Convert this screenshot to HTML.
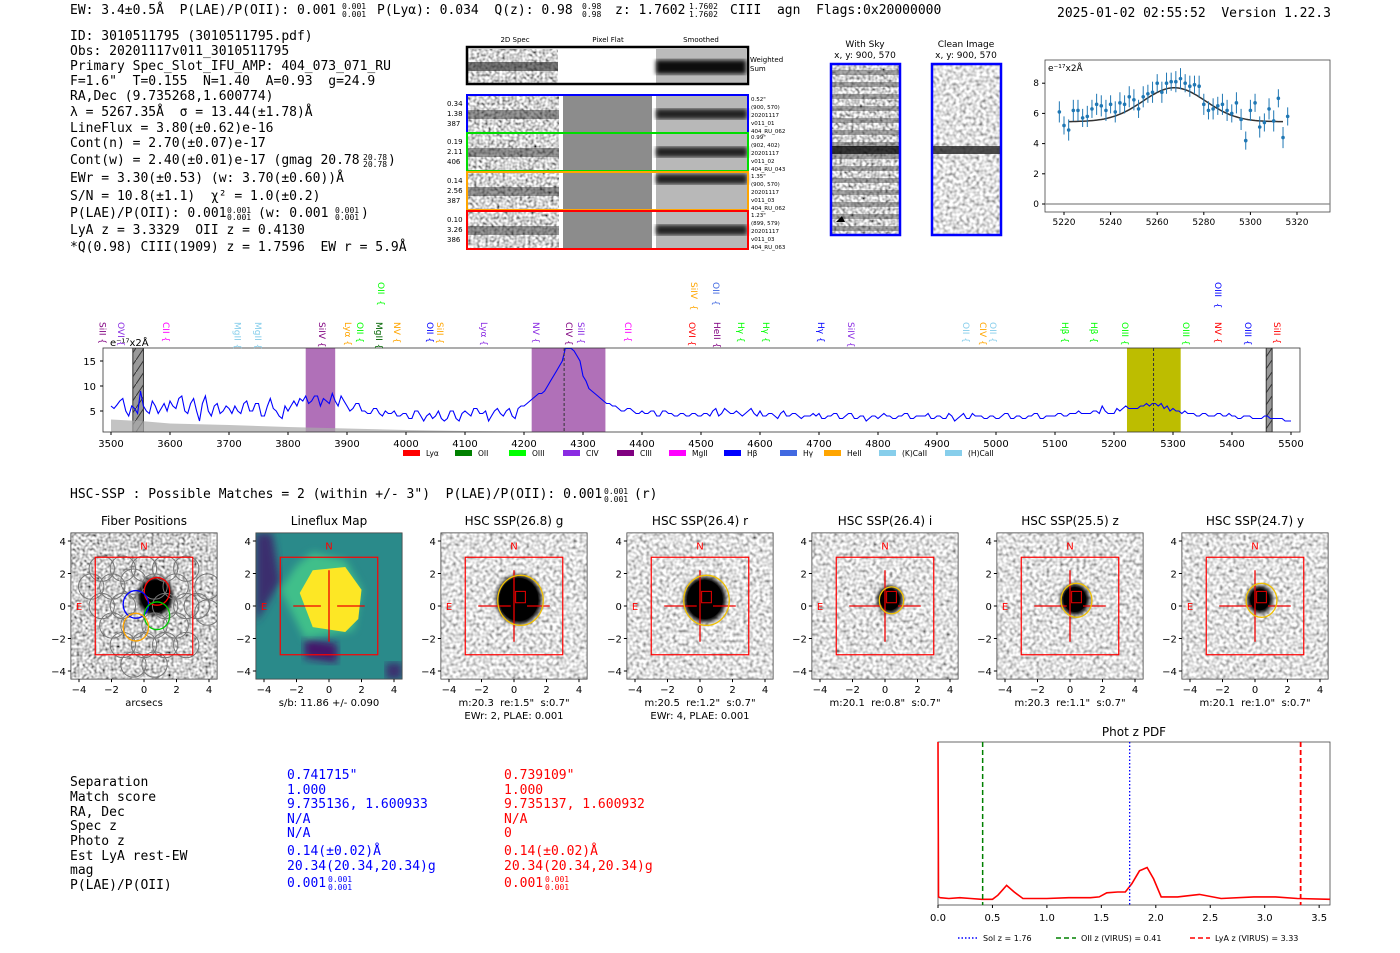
<!DOCTYPE html>
<html><head><meta charset="utf-8">
<style>
html,body{margin:0;padding:0;background:#fff;}
svg{display:block;}
svg text{white-space:pre;}
.m{font-family:"DejaVu Sans Mono","Liberation Mono",monospace;font-size:13px;fill:#000;}
.f{font-family:"DejaVu Sans Mono","Liberation Mono",monospace;font-size:8px;fill:#000;}
.s{font-family:"DejaVu Sans","Liberation Sans",sans-serif;}
.tk{font-family:"DejaVu Sans","Liberation Sans",sans-serif;font-size:10px;fill:#000;}
</style></head>
<body>
<svg id="fig" width="1400" height="953" viewBox="0 0 1400 953" xmlns="http://www.w3.org/2000/svg" xml:space="preserve">
<defs>
 <filter id="noise" x="0" y="0" width="100%" height="100%">
  <feTurbulence type="fractalNoise" baseFrequency="0.35" numOctaves="1" seed="3"/>
  <feColorMatrix type="matrix" values="1.8 0.6 0 0 -0.55  1.8 0.6 0 0 -0.55  1.8 0.6 0 0 -0.55  0 0 0 0 1"/>
 </filter>
 <filter id="noise2" x="0" y="0" width="100%" height="100%">
  <feTurbulence type="fractalNoise" baseFrequency="0.3" numOctaves="1" seed="7"/>
  <feColorMatrix type="matrix" values="1.6 0.5 0 0 -0.3  1.6 0.5 0 0 -0.3  1.6 0.5 0 0 -0.3  0 0 0 0 1"/>
 </filter>
 <filter id="blur2"><feGaussianBlur stdDeviation="2"/></filter>
 <filter id="blur4"><feGaussianBlur stdDeviation="4"/></filter>
 <pattern id="hatch" width="8" height="12" patternUnits="userSpaceOnUse"><rect width="8" height="12" fill="#999"/><path d="M0 12 L8 0" stroke="#333" stroke-width="1"/></pattern>
 <clipPath id="specclip"><rect x="103" y="348" width="1197" height="84"/></clipPath>
</defs>

<g>
 <text class="m" x="70" y="14">EW: 3.4±0.5Å  P(LAE)/P(OII): 0.001</text>
 <text class="f" x="342" y="9">0.001</text><text class="f" x="342" y="17">0.001</text>
 <text class="m" x="377" y="14">P(Lyα): 0.034  Q(z): 0.98</text>
 <text class="f" x="582" y="9">0.98</text><text class="f" x="582" y="17">0.98</text>
 <text class="m" x="615" y="14">z: 1.7602</text>
 <text class="f" x="689" y="9">1.7602</text><text class="f" x="689" y="17">1.7602</text>
 <text class="m" x="730" y="14">CIII  agn  Flags:0x20000000</text>
 <text class="m" x="1057" y="17">2025-01-02 02:55:52  Version 1.22.3</text>
</g>

<g>
 <text class="m" x="70" y="40">ID: 3010511795 (3010511795.pdf)</text>
 <text class="m" x="70" y="55">Obs: 20201117v011_3010511795</text>
 <text class="m" x="70" y="70">Primary Spec_Slot_IFU_AMP: 404_073_071_RU</text>
 <text class="m" x="70" y="85">F=1.6"  T=0.155  N=1.40  A=0.93  g=24.9</text>
 <text class="m" x="70" y="100">RA,Dec (9.735268,1.600774)</text>
 <text class="m" x="70" y="116">λ = 5267.35Å  σ = 13.44(±1.78)Å</text>
 <text class="m" x="70" y="132">LineFlux = 3.80(±0.62)e-16</text>
 <text class="m" x="70" y="147">Cont(n) = 2.70(±0.07)e-17</text>
 <text class="m" x="70" y="164">Cont(w) = 2.40(±0.01)e-17 (gmag 20.78</text>
 <text class="f" x="363" y="160">20.78</text><text class="f" x="363" y="167">20.78</text><text class="m" x="388" y="164">)</text>
 <text class="m" x="70" y="182">EWr = 3.30(±0.53) (w: 3.70(±0.60))Å</text>
 <text class="m" x="70" y="200">S/N = 10.8(±1.1)  χ² = 1.0(±0.2)</text>
 <text class="m" x="70" y="217">P(LAE)/P(OII): 0.001</text>
 <text class="f" x="227" y="213">0.001</text><text class="f" x="227" y="220">0.001</text>
 <text class="m" x="258" y="217">(w: 0.001</text>
 <text class="f" x="335" y="213">0.001</text><text class="f" x="335" y="220">0.001</text><text class="m" x="361" y="217">)</text>
 <text class="m" x="70" y="234">LyA z = 3.3329  OII z = 0.4130</text>
 <text class="m" x="70" y="251">*Q(0.98) CIII(1909) z = 1.7596  EW r = 5.9Å</text>
</g>

<g id="spec2d">
 <text class="s" x="515" y="42" font-size="7" text-anchor="middle">2D Spec</text>
 <text class="s" x="608" y="42" font-size="7" text-anchor="middle">Pixel Flat</text>
 <text class="s" x="701" y="42" font-size="7" text-anchor="middle">Smoothed</text>
</g>

<g>
 <text class="s" x="865" y="47" font-size="9" text-anchor="middle">With Sky</text>
 <text class="s" x="865" y="58" font-size="9" text-anchor="middle">x, y: 900, 570</text>
 <rect x="832" y="65" width="67" height="169" fill="#bbb" filter="url(#noise)"/>
 <g id="skystripes"></g>
 <rect x="832" y="146" width="67" height="8" fill="#111" opacity="0.85"/>
 <rect x="831" y="64" width="69" height="171" fill="none" stroke="#0000ff" stroke-width="2.5"/>
</g>
<g>
 <text class="s" x="966" y="47" font-size="9" text-anchor="middle">Clean Image</text>
 <text class="s" x="966" y="58" font-size="9" text-anchor="middle">x, y: 900, 570</text>
 <rect x="933" y="65" width="67" height="169" fill="#aaa" filter="url(#noise2)"/>
 <rect x="933" y="146" width="67" height="8" fill="#222" opacity="0.8"/>
 <rect x="932" y="64" width="69" height="171" fill="none" stroke="#0000ff" stroke-width="2.5"/>
</g>

<g id="fitplot">
 <rect x="1045" y="60" width="285" height="152" fill="#fff" stroke="#444" stroke-width="0.8"/>
 <text class="s" x="1048" y="71" font-size="9">e⁻¹⁷x2Å</text>
</g>

<g id="spectrum">
 <text class="s" x="110" y="346" font-size="10">e⁻¹⁷x2Å</text>
</g>

<text class="m" x="70" y="498">HSC-SSP : Possible Matches = 2 (within +/- 3")  P(LAE)/P(OII): 0.001</text>
<text class="f" x="604" y="494">0.001</text><text class="f" x="604" y="502">0.001</text>
<text class="m" x="634" y="498">(r)</text>

<g id="cutouts"></g>

<g>
 <text class="m" x="70" y="786">Separation</text>
 <text class="m" x="70" y="801">Match score</text>
 <text class="m" x="70" y="816">RA, Dec</text>
 <text class="m" x="70" y="830">Spec z</text>
 <text class="m" x="70" y="845">Photo z</text>
 <text class="m" x="70" y="860">Est LyA rest-EW</text>
 <text class="m" x="70" y="874">mag</text>
 <text class="m" x="70" y="889">P(LAE)/P(OII)</text>
 <text class="m" x="287" y="779" style="fill:#0000ff">0.741715"</text>
 <text class="m" x="287" y="794" style="fill:#0000ff">1.000</text>
 <text class="m" x="287" y="808" style="fill:#0000ff">9.735136, 1.600933</text>
 <text class="m" x="287" y="823" style="fill:#0000ff">N/A</text>
 <text class="m" x="287" y="837" style="fill:#0000ff">N/A</text>
 <text class="m" x="287" y="855" style="fill:#0000ff">0.14(±0.02)Å</text>
 <text class="m" x="287" y="870" style="fill:#0000ff">20.34(20.34,20.34)g</text>
 <text class="m" x="287" y="887" style="fill:#0000ff">0.001</text>
 <text class="f" x="328" y="882" style="fill:#0000ff">0.001</text><text class="f" x="328" y="890" style="fill:#0000ff">0.001</text>
 <text class="m" x="504" y="779" style="fill:#ff0000">0.739109"</text>
 <text class="m" x="504" y="794" style="fill:#ff0000">1.000</text>
 <text class="m" x="504" y="808" style="fill:#ff0000">9.735137, 1.600932</text>
 <text class="m" x="504" y="823" style="fill:#ff0000">N/A</text>
 <text class="m" x="504" y="837" style="fill:#ff0000">0</text>
 <text class="m" x="504" y="855" style="fill:#ff0000">0.14(±0.02)Å</text>
 <text class="m" x="504" y="870" style="fill:#ff0000">20.34(20.34,20.34)g</text>
 <text class="m" x="504" y="887" style="fill:#ff0000">0.001</text>
 <text class="f" x="545" y="882" style="fill:#ff0000">0.001</text><text class="f" x="545" y="890" style="fill:#ff0000">0.001</text>
</g>

<g id="pdfplot">
 <text class="s" x="1134" y="736" font-size="12" text-anchor="middle">Phot z PDF</text>
</g>
</svg>

<script>
// ===== full spectrum data =====
const specWaveStart = 3500, specWaveStep = 5;
const specFlux = [6,5.5,6.2,7,7.5,5,4,6,5.5,4.5,9,6,5,4.5,7,6,4.5,5.5,6.5,5,
7,6,5.5,7.5,8,5,4.5,6.5,7.5,5,3,6.5,8,5,4,6,6.5,4.5,5,6,
5.5,4.5,6,5,4.5,6.5,7,5,5,6.5,6.5,4,4,6,7.5,5.5,5,4,3.5,6,
5,6,7,6,7.5,7,8,6.5,7,8,8,6,7.5,7,6.5,8.5,7,6,8,7,
6,5,5.5,6.5,6.5,5,5,4.5,4.5,5.5,5.5,4.5,4,5,4.5,4.5,5,4,4,4.5,
4.5,3.5,3.5,5,5,4,3,4,4.5,3.5,4,5,3.5,3,3.5,5,5,3.5,3,4.5,
5,4.5,4,5.5,5.5,4.5,4.5,5,3,4,5,5.5,4.5,4,5,5.5,4,3.5,5.5,6,
6,6.5,7,7.5,8,8.5,8.5,9,10,11,12,13,14,15,17.5,17.5,17.5,17,16,15,
12,11,9.5,9,8.5,8,7.5,7,6.5,6.5,6,6,5.5,5,5,5.5,5.5,5,4.5,4.5,
5,4.5,4.5,5,5,4,4,5,5,4.5,4.5,4,4,4.5,4.5,4,4,4.5,4.5,4,
4,4.5,4.5,4,5,5.5,4,4.5,5.5,5,4.5,4.5,5,4.5,4,4.5,5,5.5,4.5,4,
5,4,4,4.5,4.5,4,3.5,4.5,5,4,4,4.5,4.5,4,3.5,4,4,4,4.5,4,
4.5,3.5,3.5,4,4,4.5,4.5,3.5,3.5,4,4.5,4.5,3.5,3.5,4,4,3,3.5,4,4,
3.5,4,4.5,4,4,3.5,3.5,4,4,4.5,4.5,3.5,3.5,4,4,4,4,4.5,3.5,3.5,
4,4,3.5,3.5,4.5,4,3,3.5,4,4.5,3.5,3.5,4.5,4,4,4,3.5,3.5,4,4,
3.5,3.5,4,4.5,4.5,3.5,3.5,4,4,3.5,3.5,4,4,4.5,4.5,3.5,3.5,4,4,4,
4,4.5,4.5,4,4,4.5,4.5,4.5,5,4.5,4.5,4.5,4.5,5,5,4.5,6,5,4.5,4.5,
4.5,5.5,5,5.5,6,5.5,5.5,5.5,5.5,6,6,6.5,6,6.5,6.5,6,6.5,5.5,6,5,
5.5,5,5,4.5,5,4.5,4.5,4.5,4,4,4.5,4.5,4,4,4,4.5,4.5,4,4,4.5,
4,4,3.5,3.5,4,4,4,3.5,3.5,3.5,3.5,4,4,3.5,3.5,3.5,3.5,3.5,3,3,
3];
const skyWave = [3500,3550,3600,3700,3800,3900,4000,4100,4200,4300];
const skyFlux = [3.3,3.0,2.5,2.2,1.8,1.5,1.2,1.0,0.9,0.8];
const specXTicks = [3500,3600,3700,3800,3900,4000,4100,4200,4300,4400,4500,4600,4700,4800,4900,5000,5100,5200,5300,5400,5500];
const specYTicks = [5,10,15];
const bandLo = [3537,3830,4213,5222,5458];
const bandHi = [3555,3880,4338,5313,5468];
const bandColor = ['hatch','#b070b8','#b070b8','#bdbd00','hatch'];
const markerWaves = [4268,5267];
const lineWave = [3486,3517,3593,3714,3749,3858,3902,3922,3954,3985,4041,4058,4132,4220,4276,4297,4376,4485,4527,4568,4610,4703,4754,4949,4978,4995,5117,5166,5219,5322,5376,5427,5476];
const lineName = ['SiII','OVI','CII','MgII','MgII','SiIV','Lyα','OII','MgII','NV','OII','SiII','Lyα','NV','CIV','SiII','CII','OVI','HeII','Hγ','Hγ','Hγ','SiIV','OII','CIV','OII','Hβ','Hβ','OIII','OIII','NV','OIII','SiII'];
const lineColor = ['#800080','#8a2be2','#ff00ff','#87ceeb','#87ceeb','#800080','#ffa500','#00ff00','#006400','#ffa500','#0000ff','#ffa500','#8a2be2','#8a2be2','#800080','#8a2be2','#ff00ff','#ff0000','#800080','#00ff00','#00ff00','#0000ff','#8a2be2','#87ceeb','#ffa500','#87ceeb','#00ff00','#00ff00','#00ff00','#00ff00','#ff0000','#0000ff','#ff0000'];
const upWave = [3958,4488,4525,5376];
const upName = ['OII','SiIV','OII','OIII'];
const upColor = ['#00ff00','#ffa500','#4169e1','#0000ff'];
const legendName = ['Lyα','OII','OIII','CIV','CIII','MgII','Hβ','Hγ','HeII','(K)CaII','(H)CaII'];
const legendColor = ['#ff0000','#008000','#00ff00','#8a2be2','#800080','#ff00ff','#0000ff','#4169e1','#ffa500','#87ceeb','#87ceeb'];

// ===== line fit data =====
const fitWaveStart = 5218, fitWaveStep = 2;
const fitFlux = [6.1,5.2,4.9,6.2,6.2,5.7,5.8,6.3,6.6,6.5,6.2,6.6,6.1,6.7,6.6,7.1,6.9,6.3,7.1,7.3,7.4,8.0,7.4,8.0,8.1,8.1,8.3,8.0,7.8,7.9,7.8,6.6,6.2,6.3,6.5,6.6,6.2,6.0,6.7,5.6,4.2,6.2,6.7,5.1,5.4,6.3,5.5,7.0,4.4,5.8];
const fitErr = [0.7,0.6,0.7,0.7,0.7,0.6,0.7,0.6,0.7,0.7,0.7,0.6,0.7,0.7,0.6,0.7,0.7,0.6,0.7,0.6,0.7,0.6,0.7,0.7,0.6,0.7,0.7,0.6,0.7,0.6,0.7,0.7,0.6,0.7,0.6,0.7,0.7,0.6,0.7,0.7,0.6,0.7,0.6,0.7,0.6,0.7,0.7,0.6,0.7,0.6];
const fitXTicks = [5220,5240,5260,5280,5300,5320];
const fitYTicks = [0,2,4,6,8];
const fitModel = {mu:5267.35, sigma:13.44, amp:2.25, cont:5.45};

// ===== photo-z PDF =====
const pdfZ = [0,0.005,0.02,0.1,0.2,0.3,0.4,0.5,0.55,0.63,0.7,0.78,0.9,1.0,1.2,1.4,1.48,1.55,1.65,1.72,1.78,1.85,1.92,1.98,2.05,2.2,2.4,2.6,2.9,3.1,3.3,3.6];
const pdfP = [1.0,0.05,0.045,0.04,0.045,0.04,0.035,0.035,0.06,0.12,0.08,0.04,0.04,0.04,0.045,0.045,0.05,0.075,0.08,0.08,0.13,0.21,0.23,0.16,0.05,0.05,0.065,0.04,0.05,0.05,0.04,0.035];
const pdfXTicks = [0.0,0.5,1.0,1.5,2.0,2.5,3.0,3.5];
const solZ = 1.76, oiiZ = 0.41, lyaZ = 3.33;

// ===== cutouts =====
const cutTitles = ['Fiber Positions','Lineflux Map','HSC SSP(26.8) g','HSC SSP(26.4) r','HSC SSP(26.4) i','HSC SSP(25.5) z','HSC SSP(24.7) y'];
const cutLabel1 = ['arcsecs','s/b: 11.86 +/- 0.090','m:20.3  re:1.5"  s:0.7"','m:20.5  re:1.2"  s:0.7"','m:20.1  re:0.8"  s:0.7"','m:20.3  re:1.1"  s:0.7"','m:20.1  re:1.0"  s:0.7"'];
const cutLabel2 = ['','','EWr: 2, PLAE: 0.001','EWr: 4, PLAE: 0.001','','',''];
const blobR = [0.9,0,1.2,1.1,0.6,0.7,0.6];
const ellR = [0,0,1.4,1.4,0.75,0.95,0.95];
const cutTicks = [-4,-2,0,2,4];

const NS='http://www.w3.org/2000/svg';
function el(tag, attrs, parent){const e=document.createElementNS(NS,tag);for(const k in attrs)e.setAttribute(k,attrs[k]);parent.appendChild(e);return e;}

(function(){
 const g=document.getElementById('spec2d');
 const boxY=[95,133,172,211], boxC=['#0000ff','#00dd00','#ffa500','#ff0000'];
 const leftT=[['0.34','1.38','387'],['0.19','2.11','406'],['0.14','2.56','387'],['0.10','3.26','386']];
 const rightT=[['0.52"','(900, 570)','20201117','v011_01','404_RU_062'],['0.99"','(902, 402)','20201117','v011_02','404_RU_043'],['1.35"','(900, 570)','20201117','v011_03','404_RU_062'],['1.23"','(899, 579)','20201117','v011_03','404_RU_063']];
 el('rect',{x:468,y:49,width:90,height:34,fill:'#aaa',filter:'url(#noise)'},g);
 el('rect',{x:468,y:62,width:90,height:9,fill:'#222',opacity:0.6},g);
 el('rect',{x:656,y:49,width:90,height:34,fill:'#bbb'},g);
 el('rect',{x:656,y:60,width:90,height:14,fill:'#111',filter:'url(#blur2)'},g);
 el('rect',{x:467,y:47,width:281,height:37,fill:'none',stroke:'#000','stroke-width':2.5},g);
 const t1=el('text',{x:750,y:62,'font-size':7,class:'s'},g); t1.textContent='Weighted';
 const t2=el('text',{x:750,y:71,'font-size':7,class:'s'},g); t2.textContent='Sum';
 for(let i=0;i<4;i++){
  const y=boxY[i], h=38;
  const r1=el('rect',{x:468,y:y,width:91,height:h,fill:'#aaa',filter:'url(#noise)'},g);
  
  
  el('rect',{x:468,y:y+15,width:91,height:9,fill:'#222',opacity:0.45},g);
  el('rect',{x:563,y:y,width:89,height:h,fill:'#8c8c8c'},g);
  el('rect',{x:656,y:y,width:91,height:h,fill:'#b8b8b8'},g);
  el('rect',{x:656,y:y+(i==2?2:14),width:91,height:10,fill:'#222',filter:'url(#blur2)'},g);
  el('rect',{x:467,y:y,width:281,height:h,fill:'none',stroke:boxC[i],'stroke-width':2},g);
  for(let k=0;k<3;k++){const t=el('text',{x:447,y:y+11+k*10,'font-size':7,class:'s'},g);t.textContent=leftT[i][k];}
  for(let k=0;k<5;k++){const t=el('text',{x:751,y:y+6+k*8,'font-size':5.5,class:'s'},g);t.textContent=rightT[i][k];}
 }
})();
(function(){const g=document.getElementById('skystripes');for(let y=70;y<232;y+=12){el('rect',{x:832,y:y,width:67,height:5,fill:'#555',opacity:0.5},g);}
 el('path',{d:'M836 222 l6 -6 l3 6 z',fill:'#000'},g);})();

(function(){
 const g=document.getElementById('spectrum');
 const sx=w=>111+(w-3500)*0.59, sy=v=>436-v*5;
 el('rect',{x:103,y:348,width:1197,height:84,fill:'#fff'},g);
 const c=el('g',{'clip-path':'url(#specclip)'},g);
 for(let i=0;i<bandLo.length;i++){
  const b=el('rect',{x:sx(bandLo[i]),y:348,width:sx(bandHi[i])-sx(bandLo[i]),height:84,fill:bandColor[i]=='hatch'?'url(#hatch)':bandColor[i],stroke:bandColor[i]=='hatch'?'#333':'none'},c);
  
  
 }
 let d='M'+sx(skyWave[0])+' 432';
 skyWave.forEach((w,i)=>{d+=' L'+sx(w)+' '+sy(skyFlux[i]);});
 d+=' L'+sx(skyWave[skyWave.length-1])+' 432 Z';
 const sk=el('path',{d:d,fill:'#aaa',opacity:0.7},c);
 
 
 let p='';
 specFlux.forEach((v,i)=>{p+=(i?' L':'M')+sx(specWaveStart+i*specWaveStep).toFixed(1)+' '+sy(v).toFixed(1);});
 const ln=el('path',{d:p,fill:'none',stroke:'#0000ff','stroke-width':1.1},c);
 
 
 markerWaves.forEach(w=>{el('line',{x1:sx(w),x2:sx(w),y1:348,y2:432,stroke:'#333','stroke-dasharray':'3,2','stroke-width':1},c);});
 el('rect',{x:103,y:348,width:1197,height:84,fill:'none',stroke:'#333','stroke-width':0.8},g);
 specXTicks.forEach(t=>{el('line',{x1:sx(t),x2:sx(t),y1:432,y2:435,stroke:'#000'},g);const tx=el('text',{x:sx(t),y:447,'text-anchor':'middle',class:'tk'},g);tx.textContent=t;});
 specYTicks.forEach(t=>{el('line',{x1:100,x2:103,y1:sy(t),y2:sy(t),stroke:'#000'},g);const tx=el('text',{x:96,y:sy(t)+4,'text-anchor':'end',class:'tk'},g);tx.textContent=t;});
 lineWave.forEach((w,i)=>{const x=sx(w);const t=el('text',{x:0,y:0,transform:`translate(${x-3},322) rotate(90)`,'font-size':9,fill:lineColor[i],class:'s'},g);t.textContent=lineName[i]+' {';
  
  });
 upWave.forEach((w,i)=>{const x=sx(w);const t=el('text',{x:0,y:0,transform:`translate(${x-3},282) rotate(90)`,'font-size':9,fill:upColor[i],class:'s'},g);t.textContent=upName[i]+'  {';
  
  });
 const lx=[403,455,509,563,617,669,724,780,824,879,945];
 legendName.forEach((n,i)=>{
  const r=el('rect',{x:lx[i],y:450,width:17,height:6,fill:legendColor[i]},g);
  
  
  const t=el('text',{x:lx[i]+23,y:456,'font-size':7.5,class:'s'},g);t.textContent=n;
 });
})();

(function(){
 const g=document.getElementById('fitplot');
 const sx=w=>1064+(w-5220)*2.33, sy=v=>204-v*15.1;
 el('line',{x1:1045,x2:1330,y1:sy(0),y2:sy(0),stroke:'#888','stroke-width':1.2},g);
 fitXTicks.forEach(t=>{el('line',{x1:sx(t),x2:sx(t),y1:212,y2:215,stroke:'#000'},g);const tx=el('text',{x:sx(t),y:225,'text-anchor':'middle','font-size':9,class:'s'},g);tx.textContent=t;});
 fitYTicks.forEach(t=>{el('line',{x1:1042,x2:1045,y1:sy(t),y2:sy(t),stroke:'#000'},g);const tx=el('text',{x:1039,y:sy(t)+3,'text-anchor':'end','font-size':9,class:'s'},g);tx.textContent=t;});
 let p='';
 for(let w=5222;w<=5314;w+=1){const v=fitModel.cont+fitModel.amp*Math.exp(-0.5*((w-fitModel.mu)/fitModel.sigma)**2);p+=(w==5222?'M':' L')+sx(w).toFixed(1)+' '+sy(v).toFixed(1);}
 const m=el('path',{d:p,fill:'none',stroke:'#333','stroke-width':1.5},g);
 
 
 fitFlux.forEach((v,i)=>{const x=sx(fitWaveStart+i*fitWaveStep);
  el('line',{x1:x,x2:x,y1:sy(v-fitErr[i]),y2:sy(v+fitErr[i]),stroke:'#1f77b4','stroke-width':1},g);
  const c=el('circle',{cx:x,cy:sy(v),r:1.8,fill:'#1f77b4'},g);
  
  
 });
})();

(function(){
 const g=document.getElementById('cutouts');
 const centers=[144,329,514,700,885,1070,1255], cy=606, s=16.25;
 centers.forEach((cx,i)=>{
  const pg=el('g',{},g);
  
  
  const X=u=>cx+u*s, Y=v=>cy-v*s;
  const cp=el('clipPath',{id:'cc'+i},pg); el('rect',{x:X(-4.5),y:Y(4.5),width:9*s,height:9*s},cp);
  const inner=el('g',{'clip-path':`url(#cc${i})`},pg);
  if(i==1){
   el('rect',{x:X(-4.5),y:Y(4.5),width:9*s,height:9*s,fill:'#2a8a8a'},inner);
   el('polygon',{points:`${X(-4.5)},${Y(4.5)} ${X(-3.5)},${Y(4.5)} ${X(-3)},${Y(1.5)} ${X(-4.5)},${Y(-1)}`,fill:'#3b2d6e',filter:'url(#blur4)'},inner);
   el('polygon',{points:`${X(-1.5)},${Y(-2)} ${X(0.5)},${Y(-2.3)} ${X(0.5)},${Y(-3.5)} ${X(-1.5)},${Y(-3.2)}`,fill:'#44136b',filter:'url(#blur4)'},inner);
   el('polygon',{points:`${X(-3)},${Y(1)} ${X(-2)},${Y(2.5)} ${X(-1)},${Y(3.3)} ${X(1)},${Y(2.8)} ${X(2)},${Y(1)} ${X(1.5)},${Y(-1.5)} ${X(-1.5)},${Y(-2)}`,fill:'#3fbf8a',filter:'url(#blur4)'},inner);
   el('polygon',{points:`${X(-1.8)},${Y(0.8)} ${X(-1)},${Y(2.2)} ${X(1)},${Y(2.4)} ${X(2)},${Y(1)} ${X(1.8)},${Y(-0.8)} ${X(1)},${Y(-1.6)} ${X(-1)},${Y(-1.3)}`,fill:'#fde725'},inner);
   el('rect',{x:X(3.5),y:Y(-3.5),width:s,height:s,fill:'#3b2d6e',filter:'url(#blur4)'},inner);
  } else {
   el('rect',{x:X(-4.5),y:Y(4.5),width:9*s,height:9*s,fill:'#ccc',filter:i==0?'url(#noise)':'url(#noise2)'},inner);
   const bx=i==0?0.7:0.3, by=i==0?0.6:0.4;
   el('ellipse',{cx:X(bx),cy:Y(by),rx:blobR[i]*s+3,ry:blobR[i]*s*1.1+3,fill:'#000',filter:'url(#blur2)'},inner);
   el('ellipse',{cx:X(bx),cy:Y(by),rx:blobR[i]*s,ry:blobR[i]*s*1.1,fill:'#000'},inner);
  }
  if(i==0){
   const hx=[-2.6,-1.3,0,1.3,2.6,3.9,-3.25,-1.95,-0.65,0.65,1.95,3.25,-2.6,-1.3,1.3,2.6,3.9,-1.95,-0.65,0.65,1.95,-1.3,0,1.3,2.6,-0.65,0.65];
   const hy=[2.3,2.3,2.3,2.3,2.3,1.2,1.2,1.2,1.5,1.2,1.2,0,0,0,0,0,-0.4,-1.2,-1.2,-1.2,-1.2,-2.4,-2.4,-2.4,-2.4,-3.6,-3.6];
   hx.forEach((u,k)=>{el('circle',{cx:X(u),cy:Y(hy[k]),r:0.78*s,fill:'none',stroke:'#777','stroke-width':1},inner);});
   const fx=[0.8,-0.5,0.8,-0.5], fy=[0.9,0.1,-0.6,-1.3], fc=['#ff0000','#0000ff','#00cc00','#ffa500'];
   fx.forEach((u,k)=>{el('ellipse',{cx:X(u),cy:Y(fy[k]),rx:0.78*s,ry:0.85*s,fill:'none',stroke:fc[k],'stroke-width':1.3},inner);});
  }
  el('rect',{x:X(-3),y:Y(3),width:6*s,height:6*s,fill:'none',stroke:'#ff0000','stroke-width':1.2},inner);
  if(i>=2){
   el('line',{x1:X(-2.2),x2:X(-0.2),y1:Y(0),y2:Y(0),stroke:'#e00','stroke-width':1.3},inner);
   el('line',{x1:X(0.8),x2:X(2.2),y1:Y(0),y2:Y(0),stroke:'#e00','stroke-width':1.3},inner);
   el('line',{x1:X(0),x2:X(0),y1:Y(2.2),y2:Y(-2.2),stroke:'#e00','stroke-width':1.3},inner);
   el('ellipse',{cx:X(0.4),cy:Y(0.35),rx:ellR[i]*s,ry:ellR[i]*s*1.1,fill:'none',stroke:'#f0c000','stroke-width':1.3},inner);
   el('rect',{x:X(0.1),y:Y(0.9),width:0.6*s,height:0.7*s,fill:'none',stroke:'#e00','stroke-width':1},inner);
  } else if(i==1){
   el('line',{x1:X(-2.2),x2:X(-0.5),y1:Y(0),y2:Y(0),stroke:'#e00','stroke-width':1.3},inner);
   el('line',{x1:X(0.5),x2:X(2.2),y1:Y(0),y2:Y(0),stroke:'#e00','stroke-width':1.3},inner);
   el('line',{x1:X(0),x2:X(0),y1:Y(2.2),y2:Y(-2.2),stroke:'#e00','stroke-width':1.3},inner);
  }
  const N=el('text',{x:X(0),y:Y(3.8)+5,'text-anchor':'middle','font-size':10,fill:'#ff0000',class:'s'},pg);N.textContent='N';
  const E=el('text',{x:X(-4),y:Y(0)+4,'text-anchor':'middle','font-size':10,fill:'#ff0000',class:'s'},pg);E.textContent='E';
  el('rect',{x:X(-4.5),y:Y(4.5),width:9*s,height:9*s,fill:'none',stroke:'#444','stroke-width':0.8},pg);
  cutTicks.forEach(t=>{
   el('line',{x1:X(t),x2:X(t),y1:Y(-4.5),y2:Y(-4.5)+3,stroke:'#000'},pg);
   const a=el('text',{x:X(t),y:Y(-4.5)+14,'text-anchor':'middle','font-size':10,class:'s'},pg);a.textContent=t<0?'−'+(-t):t;
   el('line',{x1:X(-4.5)-3,x2:X(-4.5),y1:Y(t),y2:Y(t),stroke:'#000'},pg);
   const b=el('text',{x:X(-4.5)-5,y:Y(t)+4,'text-anchor':'end','font-size':10,class:'s'},pg);b.textContent=t<0?'−'+(-t):t;
  });
  const tt=el('text',{x:cx,y:525,'text-anchor':'middle','font-size':12,class:'s'},pg);tt.textContent=cutTitles[i];
  const l1=el('text',{x:cx,y:706,'text-anchor':'middle','font-size':10,class:'s'},pg);l1.textContent=cutLabel1[i];
  if(cutLabel2[i]){const l2=el('text',{x:cx,y:719,'text-anchor':'middle','font-size':10,class:'s'},pg);l2.textContent=cutLabel2[i];}
 });
})();

(function(){
 const g=document.getElementById('pdfplot');
 const sx=z=>938+z*108.9, sy=p=>905-p*163;
 el('rect',{x:938,y:742,width:392,height:163,fill:'#fff',stroke:'#444','stroke-width':0.8},g);
 let d='';
 pdfZ.forEach((z,i)=>{d+=(i?' L':'M')+sx(z).toFixed(1)+' '+sy(pdfP[i]).toFixed(1);});
 const c=el('path',{d:d,fill:'none',stroke:'#ff0000','stroke-width':1.6},g);
 
 
 const v1=el('line',{x1:sx(oiiZ),x2:sx(oiiZ),y1:742,y2:905,stroke:'#008000','stroke-width':1.5,'stroke-dasharray':'5,3'},g);
 
 
 const v2=el('line',{x1:sx(solZ),x2:sx(solZ),y1:742,y2:905,stroke:'#0000ff','stroke-width':1.3,'stroke-dasharray':'1.5,2'},g);
 
 
 const v3=el('line',{x1:sx(lyaZ),x2:sx(lyaZ),y1:742,y2:905,stroke:'#ff0000','stroke-width':1.8,'stroke-dasharray':'5,3'},g);
 
 
 pdfXTicks.forEach(t=>{el('line',{x1:sx(t),x2:sx(t),y1:905,y2:908,stroke:'#000'},g);const a=el('text',{x:sx(t),y:921,'text-anchor':'middle','font-size':10,class:'s'},g);a.textContent=t.toFixed(1);});
 const lg=[[958,'#0000ff','1.5,2','Sol z = 1.76'],[1056,'#008000','5,3','OII z (VIRUS) = 0.41'],[1190,'#ff0000','5,3','LyA z (VIRUS) = 3.33']];
 lg.forEach(a=>{el('line',{x1:a[0],x2:a[0]+20,y1:938,y2:938,stroke:a[1],'stroke-width':1.5,'stroke-dasharray':a[2]},g);const t=el('text',{x:a[0]+25,y:941,'font-size':8,class:'s'},g);t.textContent=a[3];});
})();
</script>
</body></html>
